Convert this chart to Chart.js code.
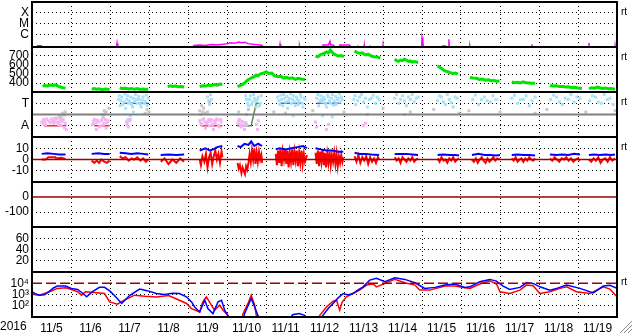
<!DOCTYPE html>
<html>
<head>
<meta charset="utf-8">
<script src="https://cdn.jsdelivr.net/npm/chart.js@4.4.0/dist/chart.umd.min.js"></script>
<style>
html, body { margin: 0; padding: 0; background: #fff; }
#wrap { position: relative; width: 633px; height: 334px; overflow: hidden; }
#wrap canvas { position: absolute; left: 0; }
</style>
</head>
<body>
<div id="wrap"></div>
<script>
// x values are days since 2016-11-05 00:00
const yearLabel = '2016';
const dayLabels = ['11/5', '11/6', '11/7', '11/8', '11/9', '11/10', '11/11', '11/12', '11/13', '11/14', '11/15', '11/16', '11/17', '11/18', '11/19'];

// X-ray flux (W/m2)
const xray = [
  [0, 5e-8], [0.13, 5e-8], [0.14, 1.05e-7], [0.24, 1.05e-7], [0.25, 5e-8],
  [2.16, 5e-8], [2.18, 1.7e-7], [2.2, 5e-8],
  [4.1, 5e-8], [4.15, 1.1e-7], [4.3, 1.2e-7], [4.45, 1.1e-7], [4.6, 1.3e-7], [4.75, 1.2e-7], [4.9, 1.4e-7],
  [5.0, 1.6e-7], [5.1, 1.9e-7], [5.2, 1.7e-7], [5.3, 2.2e-7], [5.38, 1.9e-7], [5.45, 2.1e-7], [5.55, 1.6e-7],
  [5.65, 1.4e-7], [5.75, 1.3e-7], [5.85, 1.2e-7], [5.9, 1.1e-7], [5.95, 5e-8],
  [6.34, 5e-8], [6.36, 1.4e-7], [6.38, 5e-8],
  [6.85, 5e-8], [6.86, 1.0e-7], [6.88, 5e-8], [6.98, 5e-8], [6.99, 1.0e-7], [7.0, 5e-8],
  [7.45, 5e-8], [7.46, 1.2e-7], [7.6, 1.2e-7], [7.64, 2.6e-7], [7.66, 1.2e-7], [7.72, 1.2e-7], [7.74, 5e-8],
  [7.88, 5e-8], [7.89, 1.2e-7], [8.14, 1.2e-7], [8.15, 5e-8],
  [8.34, 5e-8], [8.35, 1.1e-7], [8.36, 5e-8], [8.51, 5e-8], [8.52, 1.1e-7], [8.53, 5e-8], [8.65, 5e-8], [8.66, 1.1e-7], [8.67, 5e-8],
  [8.99, 5e-8], [9.0, 1.1e-7], [9.01, 5e-8],
  [9.99, 5e-8], [10.0, 6e-7], [10.02, 3e-7], [10.04, 5e-8],
  [10.52, 5e-8], [10.53, 1e-7], [10.6, 1e-7], [10.61, 5e-8],
  [10.68, 5e-8], [10.69, 4e-7], [10.7, 5e-8],
  [10.83, 5e-8], [10.84, 1e-7], [10.85, 5e-8], [11.01, 5e-8], [11.02, 1e-7], [11.03, 5e-8],
  [11.22, 5e-8], [11.23, 1e-7], [11.25, 5e-8], [11.42, 5e-8], [11.43, 1e-7], [11.44, 5e-8],
  [12.81, 5e-8], [12.82, 1.4e-7], [12.83, 5e-8],
  [13.32, 5e-8], [13.33, 1e-7], [13.34, 5e-8],
  [14.27, 5e-8], [14.28, 1.8e-7], [14.29, 5e-8],
  [14.94, 5e-8], [14.95, 1e-7], [14.96, 5e-8], [15, 5e-8]
];

// solar wind speed (km/s), one list per data stretch
const speed = [
  [[0.27, 365], [0.33, 372], [0.4, 368], [0.47, 378], [0.55, 372], [0.6, 380], [0.65, 368], [0.7, 360], [0.75, 352], [0.8, 348], [0.86, 345]],
  [[1.53, 330], [1.6, 338], [1.65, 332], [1.72, 336], [1.8, 326], [1.88, 332], [1.99, 328]],
  [[2.25, 348], [2.3, 338], [2.4, 342], [2.48, 334], [2.55, 338], [2.62, 330], [2.7, 338], [2.78, 328], [2.85, 334], [2.92, 328], [2.98, 332]],
  [[3.48, 360], [3.55, 368], [3.6, 362], [3.68, 366], [3.75, 358], [3.82, 362], [3.9, 355]],
  [[4.3, 360], [4.38, 370], [4.45, 366], [4.52, 376], [4.6, 372], [4.68, 382], [4.75, 376], [4.82, 388], [4.88, 384]],
  [[5.27, 360], [5.33, 372], [5.4, 385], [5.45, 400], [5.5, 420], [5.55, 440], [5.6, 450], [5.65, 462], [5.7, 470],
   [5.75, 488], [5.8, 480], [5.85, 500], [5.9, 506], [5.95, 512], [6.0, 525], [6.07, 505], [6.15, 510], [6.22, 478],
   [6.3, 470], [6.37, 476], [6.45, 455], [6.52, 462], [6.6, 450], [6.67, 458], [6.75, 440], [6.82, 452], [6.9, 445], [7.0, 438]],
  [[7.27, 700], [7.33, 690], [7.4, 715], [7.47, 725], [7.55, 745], [7.6, 735], [7.65, 765], [7.7, 740], [7.75, 720],
   [7.8, 710], [7.85, 700], [7.92, 705], [8.0, 692]],
  [[8.27, 755], [8.33, 740], [8.4, 730], [8.47, 735], [8.55, 712], [8.62, 720], [8.7, 700], [8.77, 692], [8.85, 690], [8.93, 676]],
  [[9.3, 665], [9.35, 648], [9.4, 640], [9.45, 655], [9.5, 648], [9.55, 665], [9.6, 655], [9.65, 640], [9.7, 645],
   [9.75, 632], [9.8, 638], [9.9, 628]],
  [[10.4, 592], [10.45, 575], [10.5, 562], [10.55, 545], [10.6, 532], [10.65, 528], [10.7, 518], [10.75, 512],
   [10.8, 506], [10.86, 510], [10.92, 498]],
  [[11.23, 462], [11.3, 455], [11.4, 452], [11.47, 440], [11.55, 444], [11.62, 432], [11.7, 436], [11.78, 426],
   [11.85, 428], [11.92, 420], [11.99, 422]],
  [[12.3, 412], [12.37, 404], [12.45, 408], [12.52, 400], [12.6, 412], [12.67, 402], [12.75, 400], [12.82, 396], [12.9, 398]],
  [[13.28, 372], [13.35, 366], [13.45, 368], [13.52, 360], [13.6, 362], [13.68, 356], [13.75, 358], [13.82, 350],
   [13.9, 352], [14.0, 344], [14.1, 340]],
  [[14.28, 338], [14.35, 346], [14.42, 342], [14.5, 354], [14.55, 348], [14.62, 340], [14.7, 344], [14.78, 336],
   [14.85, 338], [14.95, 330]]
];

// IMF direction (deg)
const towardPts = [
  [2.22, 300], [2.24, 330], [2.26, 250], [2.28, 290], [2.3, 320], [2.33, 260], [2.35, 280], [2.38, 345], [2.4, 230],
  [2.43, 300], [2.45, 330], [2.48, 270], [2.5, 290], [2.53, 320], [2.55, 260], [2.58, 240], [2.6, 310], [2.63, 285],
  [2.65, 340], [2.68, 300], [2.7, 270], [2.73, 325], [2.75, 300], [2.78, 260], [2.8, 240], [2.83, 295], [2.85, 320],
  [2.88, 270], [2.9, 285], [2.93, 335], [2.95, 250], [2.98, 310], [2.46, 140], [2.52, 170], [2.6, 200],
  [4.5, 320], [4.53, 290], [4.55, 260], [4.58, 340], [4.6, 300],
  [5.48, 330], [5.5, 300], [5.53, 270], [5.55, 250], [5.58, 300], [5.6, 330], [5.63, 260], [5.65, 280], [5.68, 340],
  [5.7, 310], [5.73, 290], [5.75, 240], [5.78, 300], [5.8, 320], [5.83, 250], [5.85, 270], [5.88, 330],
  [6.3, 320], [6.33, 290], [6.35, 260], [6.38, 335], [6.4, 300], [6.43, 250], [6.45, 340], [6.48, 310], [6.5, 280],
  [6.53, 325], [6.55, 230], [6.58, 290], [6.6, 310], [6.63, 345], [6.65, 270], [6.68, 300], [6.7, 330], [6.73, 280],
  [6.75, 250], [6.78, 320], [6.8, 300], [6.83, 260], [6.85, 290], [6.88, 340], [6.9, 320], [6.93, 270], [6.95, 240],
  [6.98, 310], [7.0, 300], [6.5, 190], [6.7, 170],
  [7.3, 310], [7.33, 340], [7.35, 250], [7.38, 290], [7.4, 330], [7.43, 300], [7.45, 280], [7.48, 320], [7.5, 300],
  [7.53, 265], [7.55, 240], [7.58, 335], [7.6, 320], [7.63, 290], [7.65, 270], [7.68, 310], [7.7, 340], [7.73, 255],
  [7.75, 290], [7.78, 325], [7.8, 260], [7.83, 300], [7.85, 310], [7.88, 345], [7.9, 280], [7.93, 320], [7.95, 300],
  [7.45, 170], [7.7, 160],
  [8.25, 300], [8.28, 330], [8.3, 260], [8.35, 290], [8.4, 320], [8.45, 340], [8.5, 280], [8.55, 310], [8.6, 240],
  [8.65, 300], [8.7, 310], [8.75, 335], [8.8, 270], [8.85, 320], [8.9, 300],
  [9.3, 310], [9.35, 340], [9.4, 270], [9.45, 300], [9.5, 330], [9.55, 290], [9.6, 250], [9.65, 320], [9.7, 300],
  [9.75, 340], [9.8, 280], [9.85, 310], [9.9, 320], [9.55, 180],
  [10.4, 290], [10.45, 330], [10.5, 320], [10.55, 280], [10.6, 260], [10.65, 340], [10.7, 300], [10.75, 275],
  [10.8, 240], [10.85, 320], [10.9, 310],
  [11.3, 300], [11.37, 335], [11.45, 260], [11.52, 300], [11.6, 320], [11.67, 290], [11.75, 280], [11.82, 330], [11.9, 300],
  [12.3, 310], [12.37, 335], [12.45, 270], [12.52, 300], [12.6, 300], [12.67, 330], [12.75, 250], [12.82, 290], [12.9, 320],
  [13.3, 300], [13.37, 335], [13.45, 320], [13.52, 280], [13.6, 260], [13.67, 310], [13.75, 300], [13.82, 340],
  [13.9, 280], [13.97, 320], [14.05, 310],
  [14.3, 290], [14.37, 330], [14.45, 320], [14.52, 280], [14.6, 270], [14.67, 340], [14.75, 300], [14.82, 310], [14.9, 260]
];
const awayPts = [
  [0.25, 120], [0.28, 105], [0.3, 140], [0.33, 125], [0.35, 100], [0.38, 145], [0.42, 130], [0.46, 115], [0.5, 145],
  [0.53, 125], [0.55, 110], [0.58, 150], [0.6, 135], [0.63, 115], [0.65, 150], [0.68, 100], [0.7, 120], [0.73, 140],
  [0.75, 95], [0.78, 125], [0.8, 140], [0.83, 75], [0.85, 110], [0.88, 60],
  [1.55, 100], [1.58, 125], [1.6, 140], [1.63, 110], [1.65, 60], [1.68, 135], [1.7, 120], [1.73, 80], [1.75, 90],
  [1.78, 130], [1.8, 145], [1.83, 100], [1.85, 110], [1.88, 140], [1.9, 70], [1.93, 115], [1.95, 130],
  [2.42, 120], [2.44, 100], [2.47, 80], [2.5, 130], [2.52, 140],
  [4.3, 130], [4.33, 110], [4.35, 100], [4.38, 140], [4.4, 145], [4.43, 120], [4.45, 70], [4.48, 105], [4.5, 120],
  [4.53, 140], [4.55, 90], [4.58, 125], [4.6, 140], [4.63, 100], [4.65, 60], [4.68, 130], [4.7, 110], [4.73, 145],
  [4.75, 135], [4.78, 95], [4.8, 80], [4.83, 140], [4.85, 120],
  [5.28, 110], [5.3, 130], [5.32, 140], [5.34, 100], [5.36, 80], [5.38, 125], [5.4, 120], [5.43, 95], [5.45, 60],
  [5.48, 115], [5.5, 100], [5.75, 100], [5.78, 60], [5.8, 130],
  [7.27, 120], [7.3, 80], [7.55, 60], [7.6, 100], [8.5, 90], [8.55, 110]
];
const mixedPts = [
  [0.7, 170], [0.74, 160], [0.78, 190], [0.82, 175], [0.85, 200], [1.8, 180], [1.83, 165], [1.85, 210], [1.88, 190],
  [1.9, 200], [1.97, 230], [2.9, 190], [2.95, 220], [3.0, 200], [4.3, 210], [4.33, 180], [4.35, 250], [4.38, 200],
  [4.4, 230], [4.45, 190], [4.5, 200], [4.55, 280], [5.3, 200], [5.5, 180], [5.55, 220], [6.2, 200], [6.5, 190],
  [7.2, 210], [8.0, 200], [8.6, 180], [9.0, 230], [9.7, 200], [10.3, 220], [10.95, 190], [11.2, 210], [12.0, 200],
  [12.9, 190], [13.2, 220], [14.2, 200], [14.95, 210]
];
const awayLines = [[[0.3, 90], [0.88, 90]], [[1.6, 90], [1.99, 90]], [[4.33, 90], [4.88, 90]]];
const towardLines = [[[2.33, 270], [2.98, 270]], [[6.35, 270], [6.92, 270]], [[7.3, 270], [7.9, 270]]];
const boundaryLine = [[5.26, 90], [5.62, 90], [5.75, 270], [5.88, 270]];

// IMF Bt and Bz (nT)
const bt = [
  [[0.25, 5], [0.4, 5.5], [0.55, 5], [0.7, 4.5], [0.86, 4.5]],
  [[1.53, 5], [1.7, 5.5], [1.85, 5], [1.99, 5]],
  [[2.25, 6], [2.4, 5.5], [2.55, 5], [2.7, 5.5], [2.85, 5], [2.98, 4.5]],
  [[3.3, 4], [3.5, 4.5], [3.7, 4], [3.9, 4.5]],
  [[4.3, 8], [4.45, 10], [4.55, 8], [4.65, 9], [4.75, 11], [4.88, 12]],
  [[5.27, 12], [5.35, 11], [5.45, 14], [5.55, 13], [5.62, 16], [5.7, 12], [5.8, 14], [5.9, 12]],
  [[6.25, 9], [6.35, 10], [6.5, 9], [6.65, 10], [6.8, 11], [6.95, 12], [7.05, 10]],
  [[7.27, 10], [7.4, 9], [7.55, 8], [7.7, 8], [7.85, 7], [7.98, 7]],
  [[8.27, 6], [8.4, 5], [8.55, 5], [8.7, 4.5], [8.9, 4]],
  [[9.3, 5], [9.45, 5], [9.6, 5], [9.75, 4.5], [9.9, 4]],
  [[10.4, 4], [10.55, 4.5], [10.7, 4], [10.85, 4], [10.95, 3.5]],
  [[11.28, 4], [11.45, 5], [11.6, 4], [11.75, 4], [11.9, 3.5], [12.0, 4]],
  [[12.3, 4], [12.45, 4.5], [12.6, 4], [12.75, 4], [12.9, 3.5]],
  [[13.28, 4.5], [13.45, 4], [13.6, 4.5], [13.75, 4], [13.9, 5], [14.05, 4.5]],
  [[14.28, 4], [14.42, 4.5], [14.55, 4], [14.7, 4.5], [14.85, 4], [14.95, 4.5]]
];
const bz = [
  [[0.25, 0], [0.35, 0], [0.42, 2], [0.6, 2], [0.62, 1], [0.75, 1.5], [0.86, 0.5]],
  [[1.53, -1], [1.6, -3], [1.66, -1], [1.72, -3], [1.78, 0], [1.85, -2], [1.92, -3], [1.99, -1]],
  [[2.25, 3], [2.32, 1], [2.4, 2], [2.48, -1], [2.55, 1], [2.62, 0], [2.7, 2], [2.78, -1], [2.85, 1], [2.92, -2], [2.98, 0]],
  [[3.3, -2], [3.4, 1], [3.5, -4], [3.6, 0], [3.7, -3], [3.8, 1], [3.9, -2]],
  [[4.3, 0], [4.33, -5], [4.37, 3], [4.42, -2], [4.46, 5], [4.5, -7], [4.54, 2], [4.58, 6], [4.62, -4], [4.66, 3],
   [4.7, 8], [4.74, 0], [4.78, 5], [4.82, -3], [4.86, 7], [4.88, 2]],
  [[5.27, -3], [5.3, -8], [5.33, -5], [5.37, -12], [5.4, -7], [5.43, -10], [5.46, -13], [5.49, -6], [5.52, -9],
   [5.55, -3], [5.58, 5], [5.61, -2], [5.64, 8], [5.67, 0], [5.7, 10], [5.73, -4], [5.76, 6], [5.79, -2], [5.82, 7],
   [5.85, 0], [5.88, 4], [5.9, -3]],
  [[6.25, 5], [6.28, -5], [6.31, 8], [6.34, -3], [6.37, 9], [6.4, -6], [6.43, 7], [6.46, 0], [6.49, 9], [6.52, -4],
   [6.55, 8], [6.58, -7], [6.61, 6], [6.64, -2], [6.67, 9], [6.7, -5], [6.73, 7], [6.76, -1], [6.79, 8], [6.82, -6],
   [6.85, 6], [6.88, -3], [6.91, 8], [6.94, -4], [6.97, 5], [7.0, -2], [7.05, 4]],
  [[7.27, 6], [7.3, -4], [7.33, 8], [7.36, -6], [7.39, 7], [7.42, -2], [7.45, 9], [7.48, -5], [7.51, 6], [7.54, -7],
   [7.57, 5], [7.6, -3], [7.63, 7], [7.66, -5], [7.69, 4], [7.72, -2], [7.75, 6], [7.78, -4], [7.81, 5], [7.84, -6],
   [7.87, 3], [7.9, -3], [7.93, 4], [7.96, -2], [7.98, 2]],
  [[8.27, 3], [8.32, -2], [8.37, 4], [8.42, -3], [8.47, 2], [8.52, -1], [8.57, 3], [8.62, -4], [8.67, 2], [8.72, -2],
   [8.77, 1], [8.82, -3], [8.87, 2], [8.9, 0]],
  [[9.3, 2], [9.35, -1], [9.4, 1], [9.45, -3], [9.5, 2], [9.55, 0], [9.6, -2], [9.65, 1], [9.7, -1], [9.75, 2],
   [9.8, -2], [9.85, 0], [9.9, 1]],
  [[10.4, 1], [10.45, -2], [10.5, 2], [10.55, -1], [10.6, 0], [10.65, -3], [10.7, 1], [10.75, -1], [10.8, 2],
   [10.85, -2], [10.9, 0], [10.95, 1]],
  [[11.28, 0], [11.33, -2], [11.38, 1], [11.43, -3], [11.48, 0], [11.53, 2], [11.58, -1], [11.63, -3], [11.68, 1],
   [11.73, -2], [11.78, 0], [11.83, 2], [11.88, -1], [11.93, 1], [11.99, 0]],
  [[12.3, 1], [12.35, -1], [12.4, 2], [12.45, -2], [12.5, 0], [12.55, 1], [12.6, -2], [12.65, 1], [12.7, -1],
   [12.75, 2], [12.8, 0], [12.85, -1], [12.9, 1]],
  [[13.28, 1], [13.34, -1], [13.4, 2], [13.46, 0], [13.52, -2], [13.58, 1], [13.64, 0], [13.7, 2], [13.76, -1],
   [13.82, 1], [13.88, -2], [13.94, 0], [14.0, 1], [14.05, -1]],
  [[14.28, 0], [14.34, -2], [14.4, 1], [14.46, -1], [14.52, 2], [14.58, -3], [14.64, 0], [14.7, 1], [14.76, -2],
   [14.82, 2], [14.88, -1], [14.95, 1]]
];

// electron flux
const elecBlue = [
  [0, 1750], [0.1, 1100], [0.19, 870], [0.32, 950], [0.45, 2000], [0.55, 3800], [0.65, 5600], [0.86, 5600], [0.95, 4200],
  [1.01, 3500], [1.17, 2800], [1.3, 1300], [1.4, 620], [1.55, 1800], [1.73, 4300], [1.86, 4300], [2.0, 2000], [2.15, 600],
  [2.3, 160], [2.5, 800], [2.76, 3000], [2.95, 2200], [3.19, 1230], [3.4, 1000], [3.6, 1300], [3.78, 1230], [3.96, 620],
  [4.1, 200], [4.17, 78], [4.3, 28], [4.43, 310], [4.51, 56], [4.64, 20], [4.77, 220], [4.86, 310], [4.94, 40], [5.02, 14],
  [5.1, 5], [5.41, 5], [5.45, 20], [5.62, 450], [5.71, 78], [5.79, 14], [5.9, 5], [6.6, 5], [6.68, 16], [6.85, 20],
  [6.99, 14], [7.1, 5], [7.38, 5], [7.46, 14], [7.6, 60], [7.72, 160], [7.85, 500], [7.98, 1230], [8.1, 900], [8.23, 1230],
  [8.35, 2500], [8.49, 4800], [8.66, 19000], [8.83, 27000], [9.05, 14000], [9.3, 30000], [9.56, 22000], [9.82, 11000],
  [10.07, 3500], [10.33, 4300], [10.59, 6900], [10.84, 8500], [11.1, 4300], [11.23, 4800], [11.48, 13500], [11.74, 22000],
  [11.91, 15500], [12.08, 5600], [12.25, 2800], [12.51, 4300], [12.68, 11000], [12.85, 9700], [13.02, 4800], [13.28, 2450],
  [13.45, 3500], [13.71, 6900], [14.05, 3500], [14.39, 1400], [14.65, 5600], [14.82, 6500], [15, 3500]
];
const elecRed = [
  [0, 1070], [0.19, 870], [0.45, 1750], [0.65, 3500], [0.86, 3900], [1.01, 2800], [1.17, 1750], [1.27, 870], [1.37, 1750],
  [1.6, 1500], [1.86, 1230], [1.99, 220], [2.19, 137], [2.36, 310], [2.63, 870], [2.89, 700], [3.01, 650], [3.19, 600],
  [3.5, 800], [3.78, 310], [3.96, 160], [4.09, 56], [4.3, 28], [4.38, 220], [4.47, 620], [4.6, 112], [4.68, 40],
  [4.81, 112], [4.9, 40], [5.02, 14], [5.1, 5], [5.38, 5], [5.41, 20], [5.54, 160], [5.62, 870], [5.71, 112], [5.75, 14],
  [5.8, 5], [7.3, 5], [7.38, 14], [7.55, 78], [7.72, 250], [7.81, 310], [7.89, 40], [7.95, 200], [8.06, 620], [8.23, 1230],
  [8.4, 2450], [8.58, 6900], [8.75, 8500], [8.83, 4800], [9.05, 9700], [9.3, 22000], [9.56, 11000], [9.82, 6900],
  [9.94, 2450], [10.2, 2450], [10.59, 5600], [10.84, 5600], [11.1, 4000], [11.23, 3500], [11.48, 8500], [11.74, 16600],
  [11.91, 8500], [12.0, 1750], [12.25, 1230], [12.51, 2450], [12.68, 6900], [12.85, 6000], [13.02, 1230], [13.28, 1750],
  [13.54, 3500], [13.71, 4800], [13.96, 1750], [14.31, 1230], [14.65, 4800], [14.82, 3000], [15, 620]
];
const elecThreshold = 10000;

Chart.defaults.font.family = '"Liberation Sans", Arial, sans-serif';
Chart.defaults.font.size = 12;
Chart.defaults.color = '#000';

const wrap = document.getElementById('wrap');
const TOP0 = 2, PH = 45, PAD = 3, LEFT = 32, RIGHT = 617;
const DOT = [1, 3];
const gridDays = [1, 2, 3, 4, 5, 6, 7, 8, 9, 10, 11, 12, 13, 14];
const labelDays = dayLabels.map((d, i) => i + 0.5);

function pts(arr) { return arr.map(p => ({ x: p[0], y: p[1] })); }
function segs(list) {
  const out = [];
  list.forEach((s, i) => {
    if (i) out.push({ x: s[0][0] - 0.001, y: null });
    out.push(...pts(s));
  });
  return out;
}
function line(data, color, width, extra) {
  return Object.assign({ data, borderColor: color, backgroundColor: color, borderWidth: width,
    pointRadius: 0, spanGaps: false, clip: 0, tension: 0 }, extra || {});
}
function dots(data, color) {
  return { data: pts(data), showLine: false, pointRadius: 2.1, pointStyle: 'rect',
    pointBackgroundColor: color, pointBorderWidth: 0, borderWidth: 0, clip: 0 };
}
function hline(v, color, width, extra) { return line(pts([[0, v], [15, v]]), color, width, extra); }

// no label overhang padding; the panels sit edge to edge
function noPad(s) { s.paddingTop = 0; s.paddingBottom = 0; s.paddingLeft = 0; s.paddingRight = 0; }

function xScale(bottom) {
  return {
    type: 'linear', min: 0, max: 15,
    afterBuildTicks: s => { s.ticks = (bottom ? labelDays : gridDays).map(v => ({ value: v })); },
    grid: { offset: bottom, color: '#000', lineWidth: 1, drawTicks: false, borderDash: DOT },
    border: { display: false, dash: DOT },
    ticks: bottom ? { display: true, autoSkip: false, maxRotation: 0, padding: 4, callback: (v, i) => dayLabels[i] }
                  : { display: false },
    afterFit: s => { s.height = bottom ? 17 : 0; noPad(s); }
  };
}
function yScale(type, min, max, ticks, labels, gridVals) {
  return {
    type, min, max,
    afterBuildTicks: s => { s.ticks = ticks.map(v => ({ value: v })); },
    ticks: { autoSkip: false, padding: 3, callback: (v, i) => labels[i] },
    grid: { drawTicks: false, lineWidth: 1, borderDash: DOT,
      color: c => (c.tick && gridVals.includes(c.tick.value)) ? '#000' : 'rgba(0,0,0,0)' },
    border: { display: false, dash: DOT },
    afterFit: s => { s.width = LEFT; noPad(s); }
  };
}

const panelPlugin = {
  id: 'panel',
  afterDatasetsDraw(chart, args, o) {
    const a = chart.chartArea, ctx = chart.ctx;
    ctx.save();
    ctx.strokeStyle = '#000';
    ctx.lineWidth = 2;
    ctx.strokeRect(a.left, a.top, a.right - a.left, a.bottom - a.top);
    ctx.fillStyle = '#000';
    if (o.rt) {
      ctx.font = '10px "Liberation Sans", Arial, sans-serif';
      ctx.textBaseline = 'alphabetic';
      ctx.fillText('rt', a.right + 4, a.top + 13);
    }
    if (o.year) {
      ctx.font = '12px "Liberation Sans", Arial, sans-serif';
      ctx.textBaseline = 'top';
      ctx.fillText(yearLabel, 0, a.bottom + 4);
      // window resize grip in the bottom right corner
      const w = chart.width, h = chart.height;
      ctx.strokeStyle = '#8a8a8a';
      ctx.lineWidth = 1;
      for (let k = 0; k < 3; k++) {
        const s = 4 + 4 * k;
        ctx.beginPath();
        ctx.moveTo(w - 1 - s, h - 1);
        ctx.lineTo(w - 1, h - 1 - s);
        ctx.stroke();
      }
    }
    ctx.restore();
  }
};

function makePanel(idx, y, datasets, rt) {
  const bottom = idx === 6;
  const top = TOP0 + PH * idx - PAD;
  const cv = document.createElement('canvas');
  cv.width = 633;
  cv.height = bottom ? 334 - top : PH + 2 * PAD;
  cv.style.top = top + 'px';
  wrap.appendChild(cv);
  new Chart(cv, {
    type: 'line',
    data: { datasets },
    options: {
      responsive: false, animation: false, devicePixelRatio: 1,
      layout: { autoPadding: false, padding: { left: 0, right: 633 - RIGHT, top: PAD, bottom: bottom ? 0 : PAD } },
      plugins: { legend: { display: false }, tooltip: { enabled: false }, panel: { rt: rt, year: bottom } },
      scales: { x: xScale(bottom), y: y }
    },
    plugins: [panelPlugin]
  });
}

makePanel(0, yScale('logarithmic', 7.9e-8, 1e-3, [1e-6, 1e-5, 1e-4], ['C', 'M', 'X'], [1e-6, 1e-5, 1e-4]),
  [line(pts(xray), '#ff00ff', 1.5)], true);

makePanel(1, yScale('linear', 300, 800, [400, 500, 600, 700], ['400', '500', '600', '700'], [400, 500, 600, 700]),
  [line(segs(speed), '#00e400', 3)], true);

makePanel(2, yScale('linear', 0, 360, [90, 270], ['A', 'T'], [90, 270]), [
  hline(180, '#808080', 2),
  dots(mixedPts, '#c8c8c8'),
  dots(awayPts, '#f2b4f2'),
  dots(towardPts, '#a8e2f6'),
  line(segs(awayLines), '#e03030', 1.5),
  line(segs(towardLines), '#4a66dd', 1.5),
  line(pts(boundaryLine), '#5a8a5a', 1.5)
], true);

makePanel(3, yScale('linear', -20, 20, [-10, 0, 10], ['-10', '0', '10'], [-10, 10]), [
  hline(0, '#a00000', 1.5),
  line(segs(bt), '#0000ff', 2),
  line(segs(bz), '#ff0000', 2)
], true);

makePanel(4, yScale('linear', -200, 100, [-100, 0], ['-100', '0'], [-100]), [
  hline(0, '#a00000', 1.5)
], false);

makePanel(5, yScale('linear', 0, 80, [20, 40, 60], ['20', '40', '60'], [20, 40, 60]), [], false);

makePanel(6, yScale('logarithmic', 10, 1e5, [100, 1000, 10000], ['10²', '10³', '10⁴'], [100, 1000]), [
  hline(elecThreshold, '#a00000', 1.5, { borderDash: [10, 4] }),
  line(pts(elecBlue), '#0000ff', 1.5),
  line(pts(elecRed), '#ff0000', 1.5)
], true);
</script>
</body>
</html>
